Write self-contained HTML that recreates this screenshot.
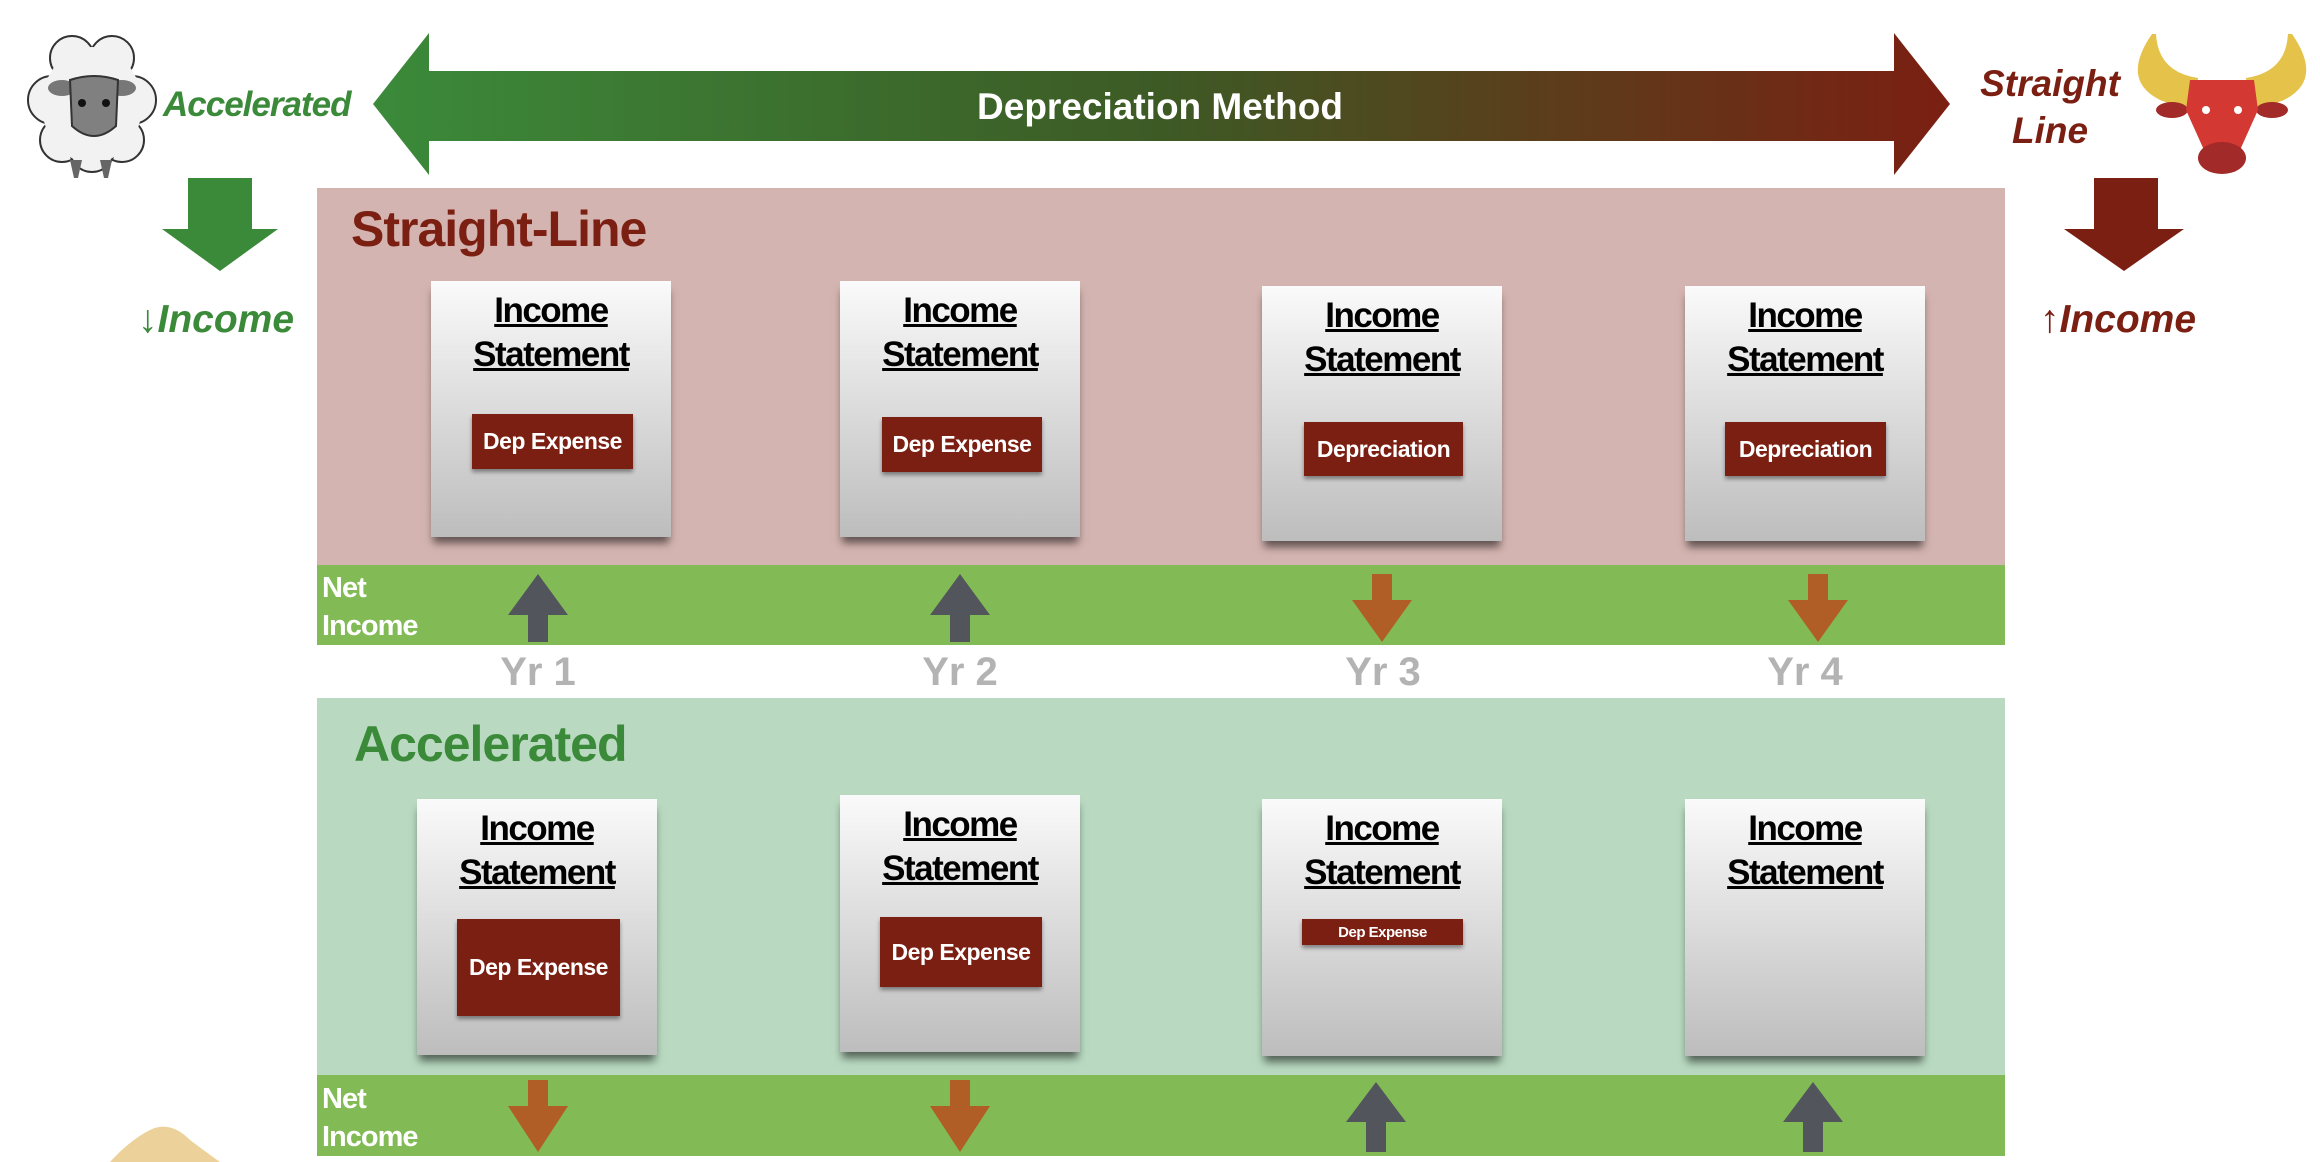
<!DOCTYPE html>
<html><head><meta charset="utf-8"><style>
body{margin:0;width:2320px;height:1162px;background:#fff;position:relative;overflow:hidden;font-family:"Liberation Sans",Arial,sans-serif}
.a{position:absolute}
.card{position:absolute;width:240px;background:linear-gradient(#fafafa,#bdbdbd);box-shadow:0 8px 8px -2px rgba(0,0,0,.55);text-align:center}
.card .t{font-weight:bold;font-size:35px;line-height:44px;text-decoration:underline;color:#000;margin-top:8px;letter-spacing:-1.5px}
.box{position:absolute;background:#7b1f12;color:#fff;font-weight:bold;font-size:23px;letter-spacing:-0.5px;display:flex;align-items:center;justify-content:center;box-shadow:0 3px 4px rgba(0,0,0,.4)}
.net{position:absolute;left:322px;color:#fff;font-weight:bold;font-size:29px;line-height:38px;letter-spacing:-1px}
.yr{position:absolute;top:650px;color:#b3b3b3;font-weight:bold;font-size:40px;width:120px;text-align:center}
</style></head><body>
<svg class="a" style="left:0;top:0" width="2320" height="1162">
<defs><linearGradient id="g" x1="0" x2="1"><stop offset="0" stop-color="#3b8a3a"/><stop offset="0.5" stop-color="#3d5a25"/><stop offset="1" stop-color="#7b1f12"/></linearGradient></defs>
<polygon points="373,104 429,33 429,71 1894,71 1894,33 1950,104 1894,175 1894,141 429,141 429,175" fill="url(#g)"/>
<text x="1160" y="119" text-anchor="middle" fill="#fff" font-size="37" font-weight="bold" font-family="Liberation Sans">Depreciation Method</text>
<!-- sheep -->
<g fill="#f2f2f2" stroke="#333" stroke-width="2">
<circle cx="72" cy="58" r="22"/><circle cx="112" cy="58" r="22"/><circle cx="52" cy="100" r="24"/><circle cx="132" cy="100" r="24"/>
<circle cx="62" cy="140" r="22"/><circle cx="122" cy="140" r="22"/><circle cx="92" cy="150" r="22"/></g>
<ellipse cx="92" cy="105" rx="50" ry="58" fill="#f2f2f2"/>
<ellipse cx="62" cy="88" rx="14" ry="8" fill="#777"/><ellipse cx="122" cy="88" rx="14" ry="8" fill="#777"/>
<path d="M70,80 Q94,72 118,80 L116,126 Q94,146 72,126 Z" fill="#808080" stroke="#333" stroke-width="2"/>
<circle cx="82" cy="103" r="4" fill="#111"/><circle cx="106" cy="103" r="4" fill="#111"/>
<polygon points="70,160 82,160 78,178 74,178" fill="#666"/><polygon points="100,160 112,160 108,178 104,178" fill="#666"/>
<!-- green down arrow -->
<polygon points="188,178 252,178 252,229 278,229 220,271 162,229 188,229" fill="#3b8a3a"/>
<!-- red down arrow -->
<polygon points="2094,178 2158,178 2158,229 2184,229 2124,271 2064,229 2094,229" fill="#7b1f12"/>
<!-- bull -->
<path d="M2152,34 Q2120,80 2160,100 Q2180,108 2195,106 L2198,78 Q2158,72 2156,34 Z" fill="#e5c24a"/>
<path d="M2292,34 Q2324,80 2284,100 Q2264,108 2249,106 L2246,78 Q2286,72 2288,34 Z" fill="#e5c24a"/>
<ellipse cx="2172" cy="110" rx="16" ry="8" fill="#a22a28"/><ellipse cx="2272" cy="110" rx="16" ry="8" fill="#a22a28"/>
<path d="M2190,80 L2254,80 L2258,110 L2240,150 L2204,150 L2186,110 Z" fill="#d33832"/>
<ellipse cx="2222" cy="158" rx="24" ry="16" fill="#a22a28"/>
<circle cx="2206" cy="110" r="4" fill="#fff"/><circle cx="2238" cy="110" r="4" fill="#fff"/>
<!-- panels -->
<rect x="317" y="188" width="1688" height="377" fill="#d4b4b0"/>
<rect x="317" y="565" width="1688" height="80" fill="#82bb55"/>
<rect x="317" y="698" width="1688" height="377" fill="#b9dac1"/>
<rect x="317" y="1075" width="1688" height="81" fill="#82bb55"/>
<!-- band arrows -->
<g fill="#52555c"><polygon points="538,574 568,615 548,615 548,642 528,642 528,615 508,615"/>
<polygon points="960,574 990,615 970,615 970,642 950,642 950,615 930,615"/>
<polygon points="1376,1082 1406,1122 1386,1122 1386,1152 1366,1152 1366,1122 1346,1122"/>
<polygon points="1813,1082 1843,1122 1823,1122 1823,1152 1803,1152 1803,1122 1783,1122"/></g>
<g fill="#b05e26"><polygon points="1372,574 1392,574 1392,600 1412,600 1382,642 1352,600 1372,600"/>
<polygon points="1808,574 1828,574 1828,600 1848,600 1818,642 1788,600 1808,600"/>
<polygon points="528,1080 548,1080 548,1106 568,1106 538,1152 508,1106 528,1106"/>
<polygon points="950,1080 970,1080 970,1106 990,1106 960,1152 930,1106 950,1106"/></g>
<path d="M110,1162 Q130,1140 150,1130 Q170,1120 190,1140 Q210,1155 220,1162 Z" fill="#ecd29a"/>
</svg>
<div class="a" style="left:163px;top:85px;color:#3b8a3a;font-weight:bold;font-style:italic;font-size:35px;letter-spacing:-1px">Accelerated</div>
<div class="a" style="left:138px;top:298px;color:#3b8a3a;font-weight:bold;font-style:italic;font-size:39px">↓Income</div>
<div class="a" style="left:1960px;top:60px;width:180px;text-align:center;color:#7b1f12;font-weight:bold;font-style:italic;font-size:37px;line-height:47px">Straight<br>Line</div>
<div class="a" style="left:2040px;top:298px;color:#7b1f12;font-weight:bold;font-style:italic;font-size:39px">↑Income</div>
<div class="a" style="left:351px;top:200px;color:#7b1f12;font-weight:bold;font-size:50px;letter-spacing:-1px">Straight-Line</div>
<div class="a" style="left:354px;top:715px;color:#3b8a3a;font-weight:bold;font-size:50px;letter-spacing:-1px">Accelerated</div>

<div class="card" style="left:431px;top:281px;height:256px"><div class="t">Income<br>Statement</div></div>
<div class="card" style="left:840px;top:281px;height:256px"><div class="t">Income<br>Statement</div></div>
<div class="card" style="left:1262px;top:286px;height:255px"><div class="t">Income<br>Statement</div></div>
<div class="card" style="left:1685px;top:286px;height:255px"><div class="t">Income<br>Statement</div></div>
<div class="box" style="left:472px;top:414px;width:161px;height:55px">Dep Expense</div>
<div class="box" style="left:882px;top:417px;width:160px;height:55px">Dep Expense</div>
<div class="box" style="left:1304px;top:422px;width:159px;height:54px">Depreciation</div>
<div class="box" style="left:1725px;top:422px;width:161px;height:54px">Depreciation</div>

<div class="card" style="left:417px;top:799px;height:256px"><div class="t">Income<br>Statement</div></div>
<div class="card" style="left:840px;top:795px;height:257px"><div class="t">Income<br>Statement</div></div>
<div class="card" style="left:1262px;top:799px;height:257px"><div class="t">Income<br>Statement</div></div>
<div class="card" style="left:1685px;top:799px;height:257px"><div class="t">Income<br>Statement</div></div>
<div class="box" style="left:457px;top:919px;width:163px;height:97px">Dep Expense</div>
<div class="box" style="left:880px;top:917px;width:162px;height:70px">Dep Expense</div>
<div class="box" style="left:1302px;top:919px;width:161px;height:26px;font-size:15px">Dep Expense</div>

<div class="net" style="top:569px">Net<br>Income</div>
<div class="net" style="top:1080px">Net<br>Income</div>
<div class="yr" style="left:478px">Yr 1</div>
<div class="yr" style="left:900px">Yr 2</div>
<div class="yr" style="left:1323px">Yr 3</div>
<div class="yr" style="left:1745px">Yr 4</div>
</body></html>
